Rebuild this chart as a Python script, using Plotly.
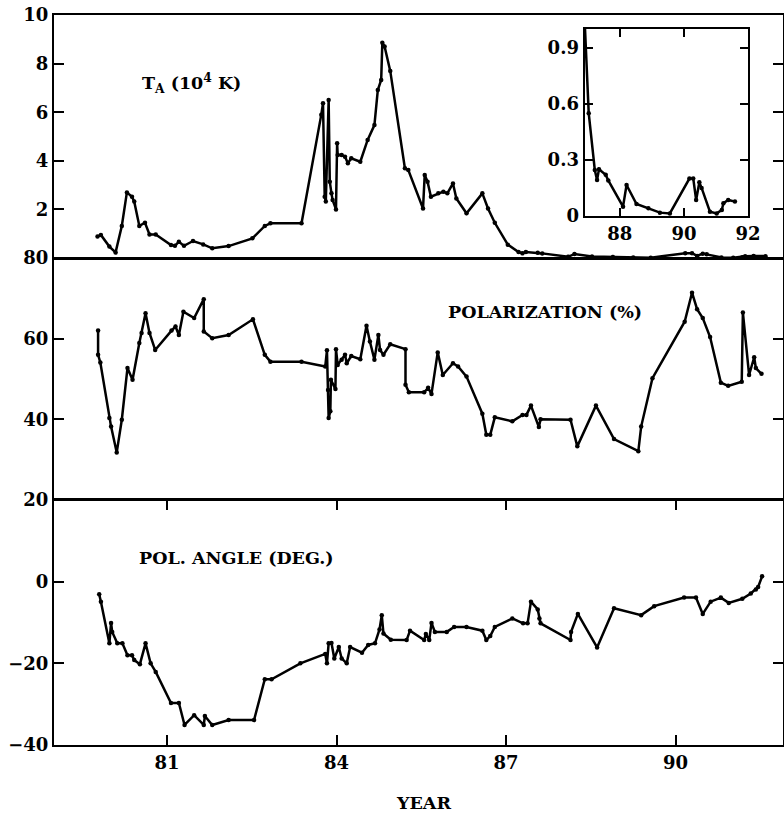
import plotly.graph_objects as go

# ---- Data ----
ta_year = [79.77, 79.83, 79.98, 80.09, 80.20, 80.29, 80.38, 80.42, 80.51, 80.61, 80.69, 80.80,
           81.07, 81.14, 81.21, 81.30, 81.46, 81.64, 81.80, 82.09, 82.51, 82.73, 82.83, 83.38,
           83.73, 83.76, 83.79, 83.81, 83.86, 83.88, 83.91, 83.93, 83.99, 84.01, 84.02, 84.09,
           84.15, 84.20, 84.26, 84.42, 84.55, 84.67, 84.73, 84.79, 84.81, 84.85, 84.95, 85.21,
           85.27, 85.53, 85.56, 85.61, 85.67, 85.80, 85.89, 85.96, 86.06, 86.12, 86.30, 86.58,
           86.68, 86.80, 87.03, 87.22, 87.29, 87.35, 87.56, 87.64, 88.10, 88.21, 88.52, 88.89,
           89.25, 89.56, 90.17, 90.29, 90.38, 90.48, 90.55, 90.81, 91.02, 91.18, 91.23, 91.38,
           91.59]
ta_val = [0.88, 0.95, 0.47, 0.23, 1.32, 2.70, 2.52, 2.32, 1.32, 1.45, 0.97, 0.97,
          0.53, 0.50, 0.67, 0.50, 0.70, 0.56, 0.40, 0.49, 0.81, 1.32, 1.43, 1.43,
          5.90, 6.37, 2.52, 2.32, 6.50, 3.14, 2.66, 2.39, 2.00, 4.72, 4.24, 4.24,
          4.17, 3.90, 4.10, 3.96, 4.86, 5.47, 6.91, 7.33, 8.86, 8.70, 7.70, 3.69,
          3.62, 2.04, 3.42, 3.14, 2.52, 2.66, 2.73, 2.66, 3.07, 2.45, 1.84, 2.66,
          2.04, 1.45, 0.55, 0.246, 0.193, 0.25, 0.22, 0.19, 0.05, 0.166, 0.064, 0.041,
          0.018, 0.014, 0.20, 0.20, 0.086, 0.18, 0.15, 0.023, 0.014, 0.032, 0.068, 0.086,
          0.077]

pol_year = [79.78, 79.78, 79.82, 79.98, 80.01, 80.11, 80.20, 80.30, 80.39, 80.51, 80.55, 80.62,
            80.69, 80.79, 81.08, 81.15, 81.21, 81.29, 81.48, 81.65, 81.65, 81.80, 82.09, 82.52,
            82.73, 82.83, 83.38, 83.80, 83.83, 83.85, 83.86, 83.89, 83.90, 83.98, 83.99, 84.02,
            84.09, 84.15, 84.18, 84.26, 84.42, 84.53, 84.59, 84.67, 84.74, 84.77, 84.83, 84.95,
            85.22, 85.22, 85.28, 85.55, 85.62, 85.68, 85.79, 85.88, 86.06, 86.15, 86.30, 86.58,
            86.65, 86.72, 86.80, 87.11, 87.29, 87.36, 87.44, 87.58, 87.61, 88.14, 88.26, 88.59,
            88.91, 89.34, 89.39, 89.59, 90.16, 90.29, 90.38, 90.48, 90.61, 90.80, 90.93, 91.17,
            91.19, 91.30, 91.39, 91.42, 91.52]
pol_val = [62.0, 56.0, 54.1, 40.3, 38.2, 31.8, 39.9, 52.7, 49.8, 58.9, 61.4, 66.3,
           61.4, 57.2, 62.0, 63.0, 60.9, 66.7, 65.1, 69.8, 61.8, 60.1, 60.9, 64.8,
           56.0, 54.3, 54.3, 53.1, 57.1, 47.3, 40.3, 42.0, 49.8, 47.5, 57.4, 53.5,
           54.8, 56.0, 53.9, 55.7, 54.9, 63.2, 59.3, 54.8, 60.9, 57.2, 56.0, 58.6,
           57.4, 48.6, 46.7, 46.7, 47.8, 46.3, 56.6, 51.0, 53.9, 53.1, 50.6, 41.4,
           36.2, 36.2, 40.5, 39.5, 41.1, 41.1, 43.4, 38.1, 40.0, 39.9, 33.3, 43.4,
           35.1, 32.1, 38.2, 50.2, 64.2, 71.4, 67.3, 65.1, 60.4, 49.1, 48.3, 49.3,
           66.5, 51.0, 55.4, 52.7, 51.3]

ang_year = [79.80, 79.83, 79.98, 80.01, 80.03, 80.12, 80.21, 80.30, 80.38, 80.42, 80.52, 80.62,
            80.71, 80.80, 81.07, 81.21, 81.31, 81.48, 81.65, 81.67, 81.80, 82.09, 82.54, 82.73,
            82.85, 83.36, 83.80, 83.83, 83.86, 83.91, 83.96, 84.04, 84.09, 84.18, 84.24, 84.45,
            84.56, 84.68, 84.76, 84.80, 84.83, 84.96, 85.24, 85.30, 85.55, 85.58, 85.64, 85.68,
            85.74, 85.95, 86.08, 86.30, 86.58, 86.65, 86.72, 86.80, 87.11, 87.30, 87.38, 87.44,
            87.56, 87.59, 87.61, 88.14, 88.15, 88.27, 88.61, 88.91, 89.39, 89.62, 90.15, 90.36,
            90.48, 90.62, 90.80, 90.94, 91.18, 91.33, 91.42, 91.46, 91.53]
ang_val = [-3.1, -4.9, -15.1, -10.1, -12.3, -15.1, -15.1, -18.0, -18.0, -19.2, -20.2, -15.1,
           -20.0, -22.1, -29.7, -29.7, -35.1, -32.7, -35.1, -32.9, -35.1, -33.9, -33.9, -23.9,
           -23.9, -20.0, -17.7, -20.0, -15.1, -15.0, -18.8, -16.0, -18.8, -20.0, -16.0, -17.4,
           -15.5, -15.1, -11.7, -8.2, -12.7, -14.2, -14.3, -12.0, -14.3, -12.8, -14.3, -10.1,
           -12.3, -12.3, -11.1, -11.1, -12.0, -14.3, -13.3, -11.1, -9.0, -10.2, -10.2, -4.9,
           -6.8, -9.0, -10.2, -14.3, -12.3, -7.9, -16.1, -6.5, -8.2, -6.0, -3.9, -3.9,
           -7.9, -4.9, -3.9, -5.2, -4.2, -2.9, -1.9, -1.3, 1.3]

x_ticks = [81, 84, 87, 90]
inset_xticks = [88, 90, 92]
inset_yticks = [0, 0.3, 0.6, 0.9]
inset_ytext = ["0", "0.3", "0.6", "0.9"]

FONT = "DejaVu Serif"
tickfont = dict(family=FONT, size=18, color="black", weight="bold")

line = dict(color="black", width=2.5)
marker = dict(color="black", size=4.5)

fig = go.Figure()
fig.add_trace(go.Scatter(x=ang_year, y=ang_val, mode="lines+markers", line=line, marker=marker,
                         xaxis="x", yaxis="y", showlegend=False))
fig.add_trace(go.Scatter(x=pol_year, y=pol_val, mode="lines+markers", line=line, marker=marker,
                         xaxis="x2", yaxis="y2", showlegend=False))
fig.add_trace(go.Scatter(x=ta_year, y=ta_val, mode="lines+markers", line=line, marker=marker,
                         xaxis="x3", yaxis="y3", showlegend=False))
fig.add_trace(go.Scatter(x=ta_year, y=ta_val, mode="lines+markers", line=line, marker=marker,
                         xaxis="x4", yaxis="y4", showlegend=False, cliponaxis=True))

d_bot = [0, 245 / 730]
d_mid = [245 / 730, 487 / 730]
d_top = [487 / 730, 1]

xr = [79, 91.9]
common_ax = dict(showline=True, linecolor="black", linewidth=2, showgrid=False, zeroline=False,
                 tickfont=tickfont, ticklen=10, tickwidth=2, tickcolor="black")

fig.update_layout(
    width=796, height=817, autosize=False,
    margin=dict(l=54, r=0, t=15, b=72),
    plot_bgcolor="white", paper_bgcolor="white",
    xaxis=dict(common_ax, domain=[0, 1], range=xr, anchor="y", ticks="inside", mirror="ticks",
               tickvals=x_ticks),
    yaxis=dict(common_ax, domain=d_bot, range=[-40, 20], anchor="x", ticks="inside", mirror="ticks",
               tickvals=[-40, -20, 0, 20]),
    xaxis2=dict(common_ax, domain=[0, 1], range=xr, anchor="y2", ticks="", mirror=True,
                showticklabels=False, linewidth=1),
    yaxis2=dict(common_ax, domain=d_mid, range=[20, 80], anchor="x2", ticks="inside", mirror="ticks",
                tickvals=[40, 60, 80]),
    xaxis3=dict(common_ax, domain=[0, 1], range=xr, anchor="y3", ticks="", mirror=True,
                showticklabels=False, linewidth=1.5),
    yaxis3=dict(common_ax, domain=d_top, range=[0, 10], anchor="x3", ticks="inside", mirror="ticks",
                tickvals=[2, 4, 6, 8, 10]),
    xaxis4=dict(common_ax, domain=[(585 - 53) / 731, (749 - 53) / 731], range=[86.9, 92],
                anchor="y4", ticks="inside", mirror="ticks", tickvals=inset_xticks, ticklen=8),
    yaxis4=dict(common_ax, domain=[(745 - 216) / 730, (745 - 29) / 730], range=[0, 1.0],
                anchor="x4", ticks="inside", mirror="ticks", tickvals=inset_yticks,
                ticktext=inset_ytext, ticklen=8),
)

annfont = dict(family=FONT, size=17.5, color="black", weight="bold")
ann = dict(xref="paper", yref="paper", showarrow=False, font=annfont,
           xanchor="center", yanchor="middle")
fig.add_annotation(text="T<sub>A</sub> (10<sup>4</sup> K)", x=(191 - 53) / 731, y=(745 - 83) / 730, **ann)
fig.add_annotation(text="POLARIZATION (%)", x=(545 - 53) / 731, y=(745 - 312) / 730, **ann)
fig.add_annotation(text="POL. ANGLE (DEG.)", x=(236 - 53) / 731, y=(745 - 558) / 730, **ann)
fig.add_annotation(text="YEAR", x=(424 - 53) / 731, y=(745 - 803) / 730, **ann)

fig.write_html(
    "out.html",
    config={"displayModeBar": False, "responsive": False},
    post_script="document.body.style.margin='0';document.body.style.overflow='hidden';"
                "document.documentElement.style.overflow='hidden';",
)
